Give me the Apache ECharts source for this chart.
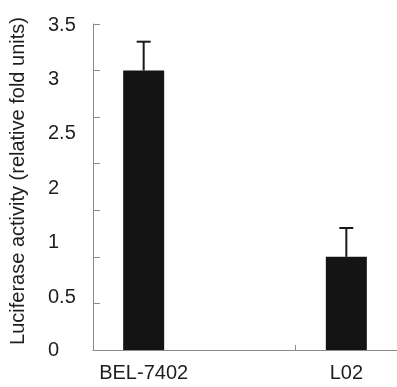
<!DOCTYPE html>
<html>
<head>
<meta charset="utf-8">
<script src="https://cdn.jsdelivr.net/npm/echarts@6/dist/echarts.min.js"></script>
<style>
html,body{margin:0;padding:0;background:#fff;}
#chart{width:397px;height:387px;}
</style>
</head>
<body>
<div id="chart"></div>
<script>
var categories = ['BEL-7402', '', 'L02'];
var values = [3.0, null, 1.0];
var errors = [0.31, null, 0.31];
var yTickLabels = ['0', '0.5', '1', '2', '2.5', '3', '3.5'];
var yTickLabelValues = [0, 0.56, 1.15, 1.73, 2.32, 2.90, 3.48];
var yTitle = 'Luciferase activity (relative fold units)';

var chart = echarts.init(document.getElementById('chart'), null, {renderer: 'canvas'});
var axisColor = '#8a8a8a';
var textColor = '#1e1e1e';
var font = 'Liberation Sans, Arial, sans-serif';

var errData = [];
for (var i = 0; i < categories.length; i++) {
  if (values[i] != null) errData.push([i, values[i], values[i] + errors[i]]);
}

var option = {
  animation: false,
  backgroundColor: '#fff',
  grid: {left: 93, top: 24, bottom: 37, width: 311, containLabel: false},
  xAxis: {
    type: 'category',
    data: categories,
    boundaryGap: true,
    axisLine: {lineStyle: {color: axisColor, width: 1}},
    axisTick: {show: true, inside: true, length: 5, lineStyle: {color: axisColor}},
    axisLabel: {color: textColor, fontSize: 20, fontFamily: font, margin: 13}
  },
  yAxis: [{
    type: 'value',
    min: 0, max: 3.5, interval: 0.5,
    name: yTitle,
    nameLocation: 'middle',
    nameGap: 65,
    nameRotate: 90,
    nameTextStyle: {color: textColor, fontSize: 20, fontFamily: font, padding: [0, 0, 0, 12]},
    axisLine: {show: true, lineStyle: {color: axisColor, width: 1}},
    axisTick: {show: true, inside: true, length: 7, lineStyle: {color: axisColor}},
    splitLine: {show: false},
    axisLabel: {
      show: true,
      customValues: yTickLabelValues,
      align: 'left',
      margin: 45,
      color: textColor, fontSize: 20, fontFamily: font,
      formatter: function (v) {
        for (var k = 0; k < yTickLabelValues.length; k++) {
          if (Math.abs(yTickLabelValues[k] - v) < 1e-6) return yTickLabels[k];
        }
        return '';
      }
    }
  }],
  series: [{
    type: 'bar',
    data: values,
    barWidth: 41,
    itemStyle: {color: '#141414'}
  }, {
    type: 'custom',
    data: errData,
    z: 5,
    renderItem: function (params, api) {
      var x = api.value(0);
      var base = api.coord([x, api.value(1)]);
      var top = api.coord([x, api.value(2)]);
      var half = 7;
      var style = {stroke: '#1a1a1a', lineWidth: 2, fill: null};
      return {
        type: 'group',
        children: [
          {type: 'line', shape: {x1: base[0], y1: base[1], x2: top[0], y2: top[1]}, style: style},
          {type: 'line', shape: {x1: top[0] - half, y1: top[1], x2: top[0] + half, y2: top[1]}, style: style}
        ]
      };
    }
  }]
};
chart.setOption(option);
</script>
</body>
</html>
